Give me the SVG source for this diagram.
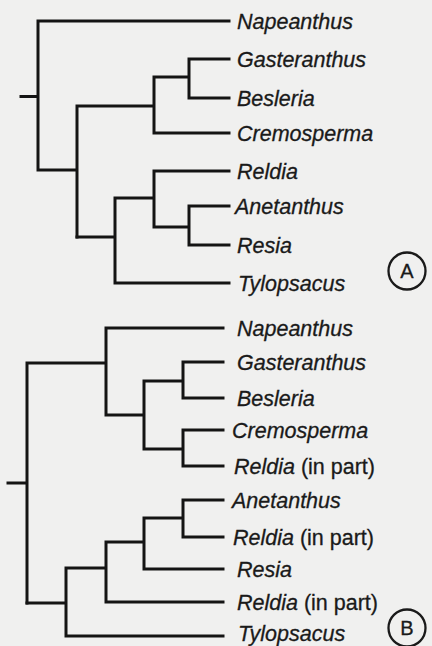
<svg xmlns="http://www.w3.org/2000/svg" width="432" height="646" viewBox="0 0 432 646">
<style>
.br{fill:none;stroke:#141414;stroke-width:3;stroke-linecap:square;stroke-linejoin:miter}
.lb{font-family:"Liberation Sans",Arial,sans-serif;font-size:21.5px;font-style:italic;fill:#1a1a1a;stroke:#1a1a1a;stroke-width:0.3}
.np{font-style:normal}
.cl{fill:none;stroke:#1a1a1a;stroke-width:2.3}
.ct{font-family:"Liberation Sans",Arial,sans-serif;font-size:20px;fill:#1a1a1a;text-anchor:middle;stroke:#1a1a1a;stroke-width:0.3}
</style>
<rect width="432" height="646" fill="#f0f0ef"/>
<g id="connectors">
<!-- Tree A -->
<path class="br" d="M21 96.5H38M229 21H38V170H77M77 106V237M77 106H154V77M154 77V133H229M154 77H189V59H229M189 77V98H229"/>
<path class="br" d="M77 237H115V198M115 198V283H229M115 198H154V171H229M154 198V227H189V206H229M189 227V245H229"/>
<!-- Tree B -->
<path class="br" d="M8 483H27M27 363V603M27 363H106V328H223M106 363V415H144V381M144 415V449M144 381H183V362H223M183 381V398H223M144 449H183V430H223M183 449V466H223"/>
<path class="br" d="M27 603H66V568M66 603V636H223M66 568H106V542M106 568V602H223M106 542H144V518M144 542V569H223M144 518H183V500H223M183 518V537H223"/>
</g>
<g id="treeA-labels">
<text id="a-napeanthus" class="lb" x="237" y="28.5">Napeanthus</text>
<text id="a-gasteranthus" class="lb" x="237" y="66.5">Gasteranthus</text>
<text id="a-besleria" class="lb" x="237" y="105.5">Besleria</text>
<text id="a-cremosperma" class="lb" x="237" y="140.5">Cremosperma</text>
<text id="a-reldia" class="lb" x="237" y="178.5">Reldia</text>
<text id="a-anetanthus" class="lb" x="235" y="213.5">Anetanthus</text>
<text id="a-resia" class="lb" x="237" y="252.5">Resia</text>
<text id="a-tylopsacus" class="lb" x="238" y="290.5">Tylopsacus</text>
</g>
<g id="labelA">
<circle class="cl" cx="407" cy="271" r="18.5"/>
<text class="ct" x="407" y="278">A</text>
</g>
<g id="treeB-labels">
<text id="b-napeanthus" class="lb" x="237" y="335.5">Napeanthus</text>
<text id="b-gasteranthus" class="lb" x="237" y="369.5">Gasteranthus</text>
<text id="b-besleria" class="lb" x="237" y="405.5">Besleria</text>
<text id="b-cremosperma" class="lb" x="232" y="437.5">Cremosperma</text>
<text id="b-reldia1" class="lb" x="234" y="473.5">Reldia<tspan class="np"> (in part)</tspan></text>
<text id="b-anetanthus" class="lb" x="232" y="507.5">Anetanthus</text>
<text id="b-reldia2" class="lb" x="233" y="544.5">Reldia<tspan class="np"> (in part)</tspan></text>
<text id="b-resia" class="lb" x="237" y="576.5">Resia</text>
<text id="b-reldia3" class="lb" x="237" y="609.5">Reldia<tspan class="np"> (in part)</tspan></text>
<text id="b-tylopsacus" class="lb" x="238" y="641">Tylopsacus</text>
</g>
<g id="labelB">
<circle class="cl" cx="407" cy="628" r="18.5"/>
<text class="ct" x="407" y="635">B</text>
</g>
</svg>
